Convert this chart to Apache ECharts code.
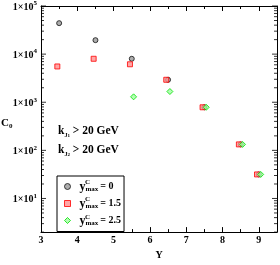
<!DOCTYPE html>
<html><head><meta charset="utf-8">
<script src="https://cdn.jsdelivr.net/npm/echarts@6/dist/echarts.min.js"></script>
<style>html,body{margin:0;padding:0;background:#fff}#c{width:280px;height:265px}</style>
</head><body><div id="c"></div>
<script>
// ---- data ----
const xTickValues = [3, 4, 5, 6, 7, 8, 9];
const yDecadeLabels = [10, 100, 1000, 10000, 100000];
const Y_ymax0 = [3.5, 4.5, 5.5, 6.5, 7.5, 8.5, 9.0];
const C_ymax0 = [44000, 19500, 8000, 2930, 785, 133, 31.6];
const Y_ymax15 = [3.45, 4.45, 5.45, 6.45, 7.45, 8.45, 8.95];
const C_ymax15 = [5540, 8000, 6150, 2930, 785, 133, 31.6];
const Y_ymax25 = [5.55, 6.55, 7.55, 8.55, 9.05];
const C_ymax25 = [1295, 1670, 785, 133, 31.6];
const seriesNames = ['ymax0', 'ymax15', 'ymax25'];
const legendValues = ['0', '1.5', '2.5'];

const FONT = 'Liberation Serif';
const xMin = 3, xMax = 9.5, yMin = 2, yMax = 100000;

function zip(a, b) { return a.map((v, i) => [v, b[i]]); }

// tick values for the log axes (decoration)
const yMajorTicks = [], yMinorTicks = [];
for (let e = 0; e <= 5; e++) {
  for (let m = 1; m <= 9; m++) {
    const v = m * Math.pow(10, e);
    if (v >= yMin && v <= yMax) (m === 1 ? yMajorTicks : yMinorTicks).push(v);
  }
}
function tickSeries(vals, x, len, side) {
  return {
    type: 'scatter', silent: true, clip: false, z: 5,
    data: vals.map(v => [x, v]),
    symbol: 'rect', symbolSize: [len, 1], symbolOffset: [side * len / 2, 0],
    itemStyle: {color: '#000', borderWidth: 0},
    emphasis: {disabled: true}, tooltip: {show: false}
  };
}

const chart = echarts.init(document.getElementById('c'), null, {renderer: 'canvas'});
const labelStyle = {fontFamily: FONT, fontWeight: 'bold', fontSize: 10, color: '#000'};
const subRich = () => ({
  k: {fontFamily: FONT, fontWeight: 'bold', fontSize: 11.5, fill: '#000', lineHeight: 14, verticalAlign: 'middle'},
  j: {fontFamily: FONT, fontWeight: 'bold', fontSize: 6, fill: '#000', lineHeight: 6, verticalAlign: 'bottom'},
  n: {fontFamily: FONT, fontWeight: 'bold', fontSize: 5, fill: '#000', lineHeight: 2, verticalAlign: 'bottom'},
  t: {fontFamily: FONT, fontWeight: 'bold', fontSize: 11.5, fill: '#000', lineHeight: 14, verticalAlign: 'middle'}
});

const option = {
  animation: false,
  backgroundColor: '#fff',
  grid: {left: 41, right: 2, top: 5, bottom: 21, containLabel: false},
  xAxis: [{
    type: 'value', min: xMin, max: xMax, interval: 1, position: 'bottom',
    axisLine: {show: true, lineStyle: {color: '#000', width: 1}},
    axisTick: {show: true, inside: true, length: 5, lineStyle: {color: '#000'}},
    minorTick: {show: true, splitNumber: 2, length: 3, lineStyle: {color: '#000'}},
    splitLine: {show: false}, minorSplitLine: {show: false},
    axisLabel: Object.assign({margin: 3, formatter: v => (xTickValues.indexOf(v) >= 0 ? String(v) : '')}, labelStyle),
    name: 'Y', nameLocation: 'middle', nameGap: 10,
    nameTextStyle: {fontFamily: FONT, fontWeight: 'bold', fontSize: 10, color: '#000', verticalAlign: 'top'}
  }, {
    type: 'value', min: xMin, max: xMax, interval: 1, position: 'top',
    axisLine: {show: true, lineStyle: {color: '#000', width: 1}},
    axisTick: {show: true, inside: true, length: 5, lineStyle: {color: '#000'}},
    minorTick: {show: true, splitNumber: 2, length: 3, lineStyle: {color: '#000'}},
    splitLine: {show: false}, minorSplitLine: {show: false}, axisLabel: {show: false}
  }],
  yAxis: [{
    type: 'log', logBase: 10, min: yMin, max: yMax, position: 'left',
    axisLine: {show: true, lineStyle: {color: '#000', width: 1}},
    axisTick: {show: false}, splitLine: {show: false},
    axisLabel: {
      margin: 4,
      formatter: v => {
        if (yDecadeLabels.indexOf(v) < 0) return '';
        return '{b|1×10}{s|' + Math.round(Math.log10(v)) + '}';
      },
      rich: {
        b: {fontFamily: FONT, fontWeight: 'bold', fontSize: 10, color: '#000', verticalAlign: 'bottom', lineHeight: 12},
        s: {fontFamily: FONT, fontWeight: 'bold', fontSize: 7, color: '#000', verticalAlign: 'top', lineHeight: 8}
      }
    }
  }, {
    type: 'log', logBase: 10, min: yMin, max: yMax, position: 'right',
    axisLine: {show: true, lineStyle: {color: '#000', width: 1}},
    axisTick: {show: false}, splitLine: {show: false}, axisLabel: {show: false}
  }],
  legend: {
    data: seriesNames, orient: 'vertical', left: 57, top: 176,
    padding: [4.5, 3, 4.5, 7], itemGap: 4.5,
    itemWidth: 6, itemHeight: 6,
    itemStyle: {borderWidth: 1},
    borderColor: '#000', borderWidth: 1, borderRadius: 0, backgroundColor: '#fff',
    selectedMode: false,
    formatter: name => '{y|y}{m|max}{e|= ' + legendValues[seriesNames.indexOf(name)] + '}',
    textStyle: {
      padding: [0, 0, 0, 4],
      rich: {
        y: {fontFamily: FONT, fontWeight: 'bold', fontSize: 12, color: '#000', lineHeight: 13, verticalAlign: 'middle'},
        m: {fontFamily: FONT, fontWeight: 'bold', fontSize: 7, color: '#000', lineHeight: 6, verticalAlign: 'bottom'},
        e: {fontFamily: FONT, fontWeight: 'bold', fontSize: 10, color: '#000', lineHeight: 13, verticalAlign: 'middle', padding: [0, 0, 0, 2]}
      }
    }
  },
  graphic: [
    {type: 'text', left: 1, top: 118, style: {text: '{c|C}{z|0}', rich: {
      c: {fontFamily: FONT, fontWeight: 'bold', fontSize: 11, fill: '#000', lineHeight: 12, verticalAlign: 'middle'},
      z: {fontFamily: FONT, fontWeight: 'bold', fontSize: 7, fill: '#000', lineHeight: 4, verticalAlign: 'bottom'}
    }}},
    {type: 'text', left: 58, top: 125, style: {text: '{k|k}{j|J}{n|1}{t| > 20 GeV}', rich: subRich()}},
    {type: 'text', left: 58, top: 144, style: {text: '{k|k}{j|J}{n|2}{t| > 20 GeV}', rich: subRich()}},
    {type: 'text', left: 85, top: 178.5, z: 100, style: {text: 'C', fontFamily: FONT, fontWeight: 'bold', fontSize: 7, fill: '#000'}},
    {type: 'text', left: 85, top: 196, z: 100, style: {text: 'C', fontFamily: FONT, fontWeight: 'bold', fontSize: 7, fill: '#000'}},
    {type: 'text', left: 85, top: 213.5, z: 100, style: {text: 'C', fontFamily: FONT, fontWeight: 'bold', fontSize: 7, fill: '#000'}}
  ],
  series: [
    tickSeries(yMajorTicks, xMin, 5, 1),
    tickSeries(yMinorTicks, xMin, 3, 1),
    tickSeries(yMajorTicks, xMax, 5, -1),
    tickSeries(yMinorTicks, xMax, 3, -1),
    {
      name: seriesNames[0], type: 'scatter', data: zip(Y_ymax0, C_ymax0),
      symbol: 'circle', symbolSize: 5,
      itemStyle: {color: '#999', borderColor: '#111', borderWidth: 1}
    },
    {
      name: seriesNames[1], type: 'scatter', data: zip(Y_ymax15, C_ymax15),
      symbol: 'rect', symbolSize: 5,
      itemStyle: {color: '#ff9090', borderColor: '#f00', borderWidth: 1}
    },
    {
      name: seriesNames[2], type: 'scatter', data: zip(Y_ymax25, C_ymax25),
      symbol: 'diamond', symbolSize: 6,
      itemStyle: {color: '#a0ffa0', borderColor: '#00e000', borderWidth: 1}
    }
  ]
};
chart.setOption(option);
</script>
</body></html>
